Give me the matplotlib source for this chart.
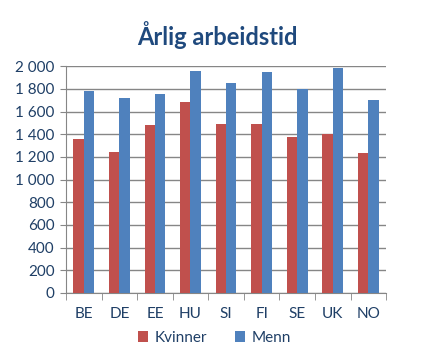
import numpy as np
import matplotlib.pyplot as plt
from matplotlib.ticker import FuncFormatter

### Data
countries = ['BE', 'DE', 'EE', 'HU', 'SI', 'FI', 'SE', 'UK', 'NO']
kvinner = [1355, 1240, 1478, 1683, 1490, 1490, 1372, 1398, 1232]
menn = [1780, 1718, 1753, 1956, 1850, 1948, 1800, 1982, 1700]

plt.rcParams['font.family'] = ['Lato', 'DejaVu Sans']

fig = plt.figure(figsize=(4.31, 3.5), dpi=100)
ax = fig.add_axes([0.153, 0.163, 0.743, 0.648])

x = np.arange(len(countries))
w = 0.29
ax.bar(x - w / 2, kvinner, w, color='#C0504D', label='Kvinner', zorder=3)
ax.bar(x + w / 2, menn, w, color='#4F81BD', label='Menn', zorder=3)

# axes styling
ax.set_xlim(-0.5, len(countries) - 0.5)
ax.set_ylim(0, 2000)
ax.set_yticks(range(0, 2001, 200))
ax.yaxis.set_major_formatter(FuncFormatter(lambda v, p: f'{int(v):,}'.replace(',', ' ')))
ax.yaxis.grid(True, color='#868686', linewidth=1, zorder=0)
ax.set_xticks(x)
ax.set_xticklabels(countries)
ax.set_xticks(np.arange(-0.5, len(countries), 1), minor=True)
ax.tick_params(axis='x', which='major', length=0, pad=10)
ax.tick_params(axis='x', which='minor', length=5, color='#868686')
ax.tick_params(axis='y', length=4, color='#868686', pad=4)
ax.tick_params(labelsize=11, labelcolor='#1F3F66')
for s in ['top', 'right']:
    ax.spines[s].set_visible(False)
for s in ['left', 'bottom']:
    ax.spines[s].set_color('#868686')

fig.suptitle('Årlig arbeidstid', x=0.505, y=0.94, fontsize=17, fontweight='bold', color='#1F497D')

leg = fig.legend(loc='center', bbox_to_anchor=(0.497, 0.035), ncol=2, frameon=False,
                 fontsize=11, handlelength=0.7, handleheight=0.7, columnspacing=1.8, handletextpad=0.4)
for t in leg.get_texts():
    t.set_color('#1F3F66')

plt.savefig('out.png', dpi=100)
